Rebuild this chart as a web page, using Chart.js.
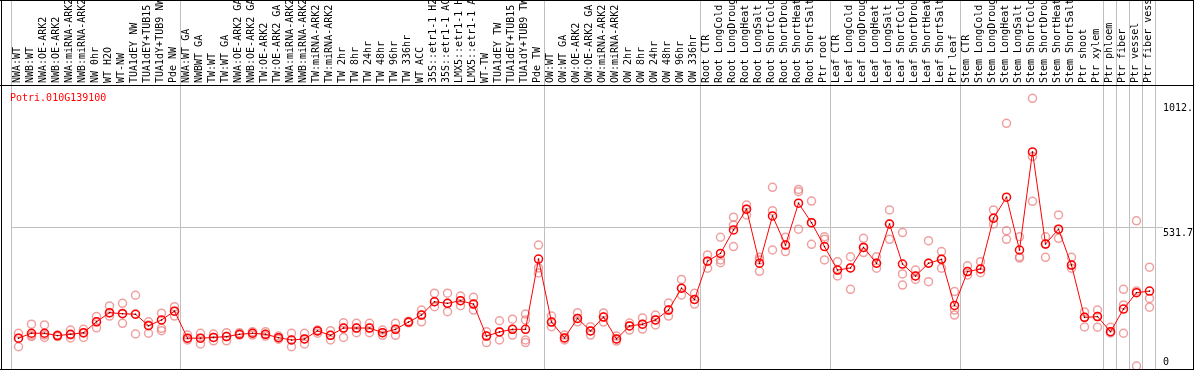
<!DOCTYPE html>
<html>
<head>
<meta charset="utf-8">
<script src="https://cdn.jsdelivr.net/npm/chart.js@4/dist/chart.umd.min.js"></script>
<style>
  html, body { margin: 0; padding: 0; background: #fff; }
</style>
</head>
<body>
<canvas id="myChart" width="1194" height="370"></canvas>
<script>
const geneName = "Potri.010G139100";

const samples = [
  "NWA:WT", "NWB:WT", "NWA:OE-ARK2", "NWB:OE-ARK2", "NWA:miRNA-ARK2", "NWB:miRNA-ARK2",
  "NW 0hr", "WT H2O", "WT-NW", "TUA1dEY NW", "TUA1dEY+TUB15 NW", "TUA1dY+TUB9 NW", "Pde NW",
  "NWA:WT GA", "NWBWT GA", "TW:WT", "TW:WT GA", "NWA:OE-ARK2 GA", "NWB:OE-ARK2 GA",
  "TW:OE-ARK2", "TW:OE-ARK2 GA", "NWA:miRNA-ARK2", "NWB:miRNA-ARK2", "TW:miRNA-ARK2", "TW:miRNA-ARK2",
  "TW 2hr", "TW 8hr", "TW 24hr", "TW 48hr", "TW 96hr", "TW 336hr", "WT ACC",
  "35S::etr1-1 H2O", "35S::etr1-1 ACC", "LMX5::etr1-1 H2O", "LMX5::etr1-1 ACC",
  "WT-TW", "TUA1dEY TW", "TUA1dEY+TUB15 TW", "TUA1dY+TUB9 TW", "Pde TW",
  "OW:WT", "OW:WT GA", "OW:OE-ARK2", "OW:OE-ARK2 GA", "OW:miRNA-ARK2", "OW:miRNA-ARK2",
  "OW 2hr", "OW 8hr", "OW 24hr", "OW 48hr", "OW 96hr", "OW 336hr",
  "Root CTR", "Root LongCold", "Root LongDrought", "Root LongHeat", "Root LongSalt",
  "Root ShortCold", "Root ShortDrought", "Root ShortHeat", "Root ShortSalt", "Ptr root",
  "Leaf CTR", "Leaf LongCold", "Leaf LongDrought", "Leaf LongHeat", "Leaf LongSalt",
  "Leaf ShortCold", "Leaf ShortDrought", "Leaf ShortHeat", "Leaf ShortSalt", "Ptr leaf",
  "Stem CTR", "Stem LongCold", "Stem LongDrought", "Stem LongHeat", "Stem LongSalt",
  "Stem ShortCold", "Stem ShortDrought", "Stem ShortHeat", "Stem ShortSalt", "Ptr shoot", "Ptr xylem",
  "Ptr phloem", "Ptr fiber", "Ptr vessel", "Ptr fiber vessel"
];

const meanValues = [
  107, 126, 126, 117, 122, 128, 170, 205, 201, 199, 155, 177, 211,
  107, 107, 110, 113, 122, 126, 122, 109, 100, 104, 135, 118, 146, 146, 146, 128, 141, 169, 196,
  247, 241, 251, 238, 115, 131, 141, 141, 411,
  169, 108, 183, 135, 188, 104, 154, 161, 177, 215, 299, 256,
  403, 433, 523, 603, 395, 577, 465, 626, 551, 459,
  369, 377, 456, 395, 546, 392, 346, 395, 410, 233,
  363, 373, 568, 649, 446, 823, 469, 526, 388, 187, 190,
  132, 219, 282, 288
];

const repHigh = [
  126, 161, 158, 119, 138, 141, 190, 231, 241, 272, 170, 203, 228,
  119, 126, 123, 128, 128, 132, 132, 115, 126, 126, 138, 136, 166, 164, 164, 138, 164, 172, 215,
  280, 280, 269, 264, 132, 174, 180, 200, 465,
  192, 119, 205, 151, 204, 115, 165, 185, 196, 242, 333, 280,
  427, 495, 572, 619, 418, 687, 495, 679, 634, 497,
  401, 420, 491, 420, 600, 513, 369, 482, 440, 286,
  385, 401, 600, 933, 497, 1029, 497, 581, 418, 208, 215,
  149, 295, 558, 380
];

const repMid = [
  107, 119, 119, 115, 119, 126, 170, 203, 203, 199, 158, 145, 211,
  107, 107, 110, 113, 122, 126, 122, 109, 100, 104, 135, 118, 146, 146, 146, 128, 141, 169, 196,
  247, 241, 251, 238, 115, 131, 141, 177, 377,
  169, 108, 183, 135, 188, 104, 154, 161, 177, 215, 299, 256,
  403, 408, 542, 603, 408, 597, 465, 670, 551, 487,
  369, 377, 456, 395, 546, 354, 346, 395, 410, 215,
  363, 373, 568, 520, 420, 805, 469, 526, 388, 187, 190,
  132, 235, 288, 260
];

const repLow = [
  74, 113, 110, 113, 108, 110, 147, 192, 164, 123, 126, 136, 192,
  100, 85, 97, 97, 119, 119, 115, 103, 74, 85, 126, 100, 110, 128, 128, 118, 118, 166, 170,
  228, 209, 232, 215, 90, 100, 119, 100, 358,
  151, 100, 170, 119, 169, 96, 138, 142, 158, 192, 273, 238,
  376, 397, 459, 581, 364, 446, 440, 526, 468, 408,
  346, 295, 436, 376, 487, 311, 333, 324, 376, 196,
  350, 359, 546, 487, 415, 633, 418, 491, 376, 150, 149,
  127, 126, 0, 226
];

// only one sample shows a fourth replicate
const repExtra = samples.map((s, i) => (i === 39 ? 90 : null));

// first sample index of each tissue / experiment block
const groupStarts = [0, 13, 41, 53, 63, 73, 84, 85, 86, 87, 88];
const yTicks = [0, 531.7, 1012.4];

const monoFont = { family: "'DejaVu Sans Mono', monospace", size: 10, lineHeight: 1 };

const framePlugin = {
  id: "frame",
  beforeDraw(chart) {
    const { ctx } = chart;
    const x = chart.scales.x;
    ctx.save();
    ctx.fillStyle = "#c0c0c0";
    groupStarts.forEach((k) => {
      const px = Math.round(x.getPixelForValue(k - 0.5)) - 1;
      ctx.fillRect(px, 0, 1, chart.height);
    });
    ctx.restore();
  },
  afterDraw(chart) {
    const { ctx, width, height } = chart;
    const y = chart.scales.y;
    ctx.save();
    ctx.fillStyle = "#000";
    ctx.fillRect(0, 0, width, 1);
    ctx.fillRect(1, 0, 1, height);
    ctx.fillRect(width - 1, 0, 1, height);
    ctx.fillRect(0, height - 1, width, 1);
    ctx.fillRect(0, chart.chartArea.top - 1, width, 1);

    // right axis labels sit just under their tick, the bottom one above it
    ctx.font = "10px 'DejaVu Sans Mono'";
    y.ticks.forEach((t) => {
      const py = y.getPixelForValue(t.value);
      if (t.value === 0) {
        ctx.textBaseline = "bottom";
        ctx.fillText("0", y.left + 7, py + 1);
      } else {
        ctx.textBaseline = "top";
        ctx.fillText(String(t.value), y.left + 7, py + 1);
      }
    });

    ctx.fillStyle = "#ff0000";
    ctx.textBaseline = "alphabetic";
    ctx.fillText(geneName, 10, 101);
    ctx.restore();
  }
};

const repStyle = (data) => ({
  type: "line",
  data: data,
  showLine: false,
  pointRadius: 4,
  pointStyle: "circle",
  pointBorderWidth: 1.5,
  pointBorderColor: "rgba(232,120,120,0.7)",
  pointBackgroundColor: "rgba(0,0,0,0)",
  order: 2
});

const ctx = document.getElementById("myChart").getContext("2d");
const chart = new Chart(ctx, {
  type: "line",
  data: {
    labels: samples,
    datasets: [
      {
        label: geneName,
        data: meanValues,
        borderColor: "#ff0000",
        borderWidth: 1,
        tension: 0,
        pointRadius: 4,
        pointStyle: "circle",
        pointBorderWidth: 1.5,
        pointBorderColor: "#ff0000",
        pointBackgroundColor: "rgba(0,0,0,0)",
        order: 1
      },
      {
        // dark dot in the middle of each mean marker
        type: "line",
        data: meanValues,
        showLine: false,
        pointRadius: 1,
        pointStyle: "rect",
        pointBorderWidth: 0,
        pointBackgroundColor: "#400000",
        order: 0
      },
      repStyle(repHigh),
      repStyle(repMid),
      repStyle(repLow),
      repStyle(repExtra)
    ]
  },
  options: {
    responsive: false,
    animation: false,
    devicePixelRatio: 1,
    layout: { autoPadding: false, padding: { left: 12, right: 0, top: 0, bottom: 1 } },
    plugins: { legend: { display: false }, tooltip: { enabled: false } },
    scales: {
      x: {
        position: "top",
        offset: true,
        grid: { display: false, drawTicks: false },
        border: { display: false },
        ticks: {
          autoSkip: false,
          minRotation: 90,
          maxRotation: 90,
          padding: 3,
          labelOffset: 9,
          color: "#000",
          font: monoFont
        },
        afterFit: (scale) => {
          scale.height = 86;
        }
      },
      y: {
        position: "right",
        min: -11.5,
        max: 1076.5,
        afterBuildTicks: (scale) => {
          scale.ticks = yTicks.map((v) => ({ value: v }));
        },
        afterFit: (scale) => {
          scale.width = 38;
        },
        border: { display: false },
        grid: {
          drawTicks: true,
          tickLength: 7,
          color: (c) => (c.tick && c.tick.value === 531.7 ? "#c0c0c0" : "rgba(0,0,0,0)")
        },
        ticks: { display: false }
      }
    }
  },
  plugins: [framePlugin]
});
</script>
</body>
</html>
